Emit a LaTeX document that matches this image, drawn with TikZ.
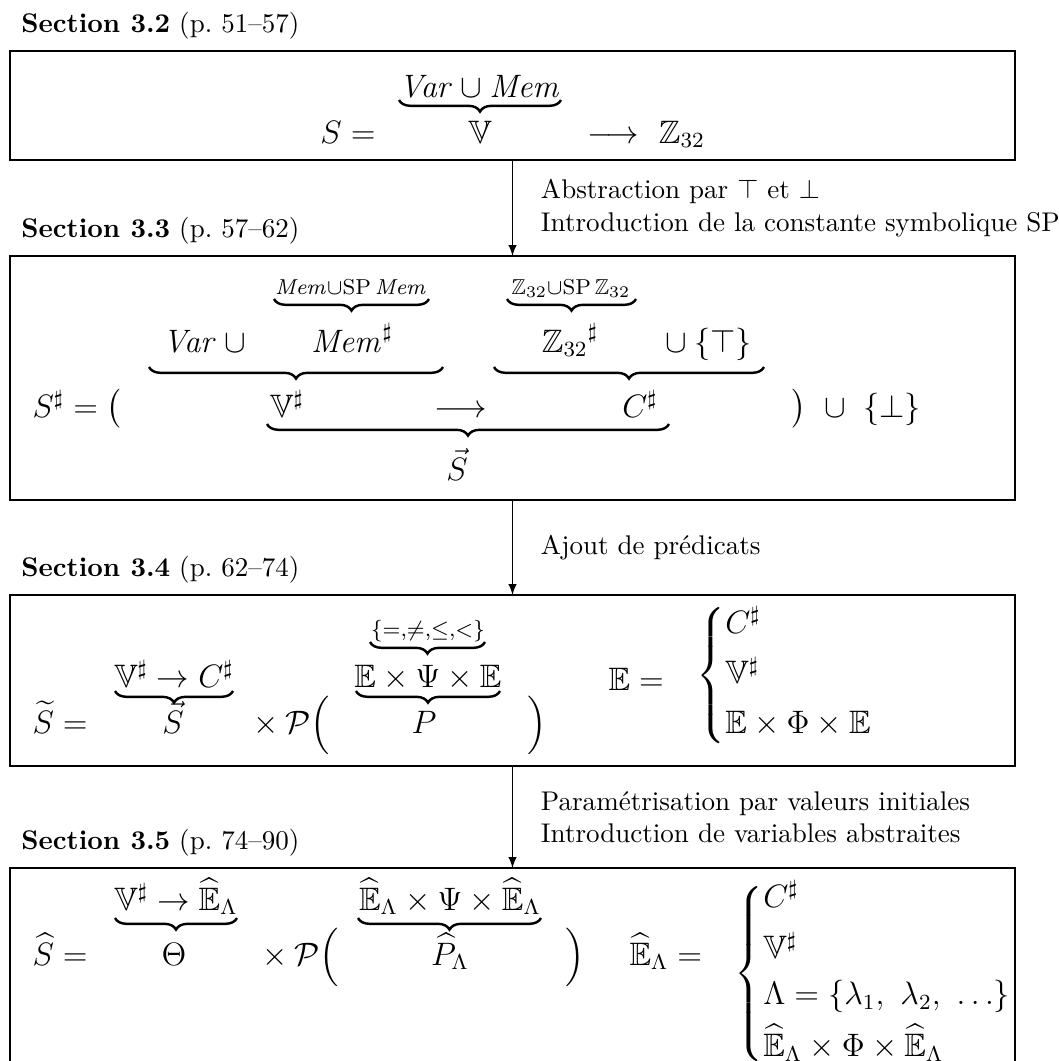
\documentclass[tikz,border=0pt]{standalone}
\usepackage{amsmath}
\usepackage{amssymb}
\usepackage{tikz}
\usetikzlibrary{arrows,positioning,decorations.pathreplacing}

\tikzset{
  secbox/.style={draw, thick, anchor=north west, minimum width=371.85pt, inner sep=0pt, outer sep=0pt},
  sectitle/.style={anchor=south west, inner sep=4pt},
  steplbl/.style={right=7pt, align=left},
  flow/.style={-latex},
  mth/.style={font=\large, inner sep=0pt, anchor=base},
  mthl/.style={mth, anchor=base west},
  ubrace/.style={decorate, decoration={brace, mirror, amplitude=4.3pt}, line width=0.9pt},
}

\begin{document}
\begin{tikzpicture}[x=0.37pt, y=-0.37pt]
  \useasboundingbox (0,0) rectangle (1059,1061);
  \clip (0,0) rectangle (1059,1061);

  % Section 3.2 - concrete states
  \node[secbox, minimum height=40.33pt] (s32) at (10,51) {};
  \node[sectitle] (t32) at (s32.north west) {\textbf{Section 3.2} (p.~51--57)};
  \node[mth] (a32) at (348,143) {$S =$};
  \node[mth] (v32) at (480,143) {$\mathbb{V}$};
  \node[mth] (z32) at (646,143) {$\longrightarrow\ \mathbb{Z}_{32}$};
  \node[mth] (u32) at (480,97) {$\mathit{Var}\cup\mathit{Mem}$};
  \draw[ubrace] (399,100) -- (561,100);

  % Section 3.3 - top and bottom, symbolic SP
  \node[secbox, minimum height=90.28pt] (s33) at (10,256) {};
  \node[sectitle] (t33) at (s33.north west) {\textbf{Section 3.3} (p.~57--62)};
  \node[mth] (m33) at (351,294) {$\scriptstyle \mathit{Mem}\cup\mathrm{SP}\,\mathit{Mem}$};
  \draw[ubrace] (274,299) -- (429,299);
  \node[mth] (z33) at (571,294) {$\scriptstyle \mathbb{Z}_{32}\cup\mathrm{SP}\,\mathbb{Z}_{32}$};
  \draw[ubrace] (507,299) -- (636,299);
  \node[mth] (var33) at (208,352) {$\mathit{Var}\cup{}$};
  \node[mth] (mem33) at (352,352) {$\mathit{Mem}^\sharp$};
  \node[mth] (zs33) at (570,352) {${\mathbb{Z}_{32}}^\sharp$};
  \node[mth] (top33) at (705,352) {${}\cup\{\top\}$};
  \draw[ubrace] (149,367) -- (443,367);
  \draw[ubrace] (494,367) -- (764,367);
  \node[mthl] (a33) at (32,417) {$S^\sharp = \big($};
  \node[mth] (v33) at (287,417) {$\mathbb{V}^\sharp$};
  \node[mth] (to33) at (461,417) {$\longrightarrow$};
  \node[mth] (c33) at (640,417) {$C^\sharp$};
  \node[mthl] (bot33) at (791,417) {$\big)\ \cup\ \{\bot\}$};
  \draw[ubrace] (267,424) -- (669,424);
  \node[mth] (vs33) at (457,480) {$\vec{S}$};

  % Section 3.4 - predicates
  \node[secbox, minimum height=63.27pt] (s34) at (10,595) {};
  \node[sectitle] (t34) at (s34.north west) {\textbf{Section 3.4} (p.~62--74)};
  \node[mth] (op34) at (428,636) {$\scriptstyle \{=,\neq,\leq,<\}$};
  \draw[ubrace] (370,642) -- (485,642);
  \node[mth] (f34) at (174,687) {$\mathbb{V}^\sharp\to C^\sharp$};
  \draw[ubrace] (115,691) -- (233,691);
  \node[mth] (e34) at (428,687) {$\mathbb{E}\times\Psi\times\mathbb{E}$};
  \draw[ubrace] (356,691) -- (500,691);
  \node[mthl] (a34) at (32,733) {$\widetilde{S} =$};
  \node[mth] (vs34) at (173,733) {$\vec{S}$};
  \node[mth] (p34) at (288,733) {${}\times\mathcal{P}\Big($};
  \node[mth] (pp34) at (424,733) {$P$};
  \node[mthl] (r34) at (527,733) {$\Big)$};
  \node[mthl] (ee34) at (608,690) {$\mathbb{E} =$};
  \node[mth, anchor=west] (c34) at (696,676) {$\left\{\begin{array}{@{}l@{}}
      C^\sharp\\[4.5pt] \mathbb{V}^\sharp\\[4.5pt] \mathbb{E}\times\Phi\times\mathbb{E}
    \end{array}\right.$};

  % Section 3.5 - initial values
  \node[secbox, minimum height=77pt] (s35) at (10,868) {};
  \node[sectitle] (t35) at (s35.north west) {\textbf{Section 3.5} (p.~74--90)};
  \node[mth] (f35) at (176,910) {$\mathbb{V}^\sharp\to\widehat{\mathbb{E}}_\Lambda$};
  \draw[ubrace] (115,918) -- (237,918);
  \node[mth] (e35) at (450,910) {$\widehat{\mathbb{E}}_\Lambda\times\Psi\times\widehat{\mathbb{E}}_\Lambda$};
  \draw[ubrace] (358,918) -- (541,918);
  \node[mthl] (a35) at (32,965) {$\widehat{S} =$};
  \node[mth] (th35) at (174,965) {$\Theta$};
  \node[mth] (p35) at (297,965) {${}\times\mathcal{P}\Big($};
  \node[mth] (pp35) at (450,965) {$\widehat{P}_\Lambda$};
  \node[mthl] (r35) at (565,965) {$\Big)$};
  \node[mthl] (ee35) at (629,965) {$\widehat{\mathbb{E}}_\Lambda =$};
  \node[mth, anchor=west] (c35) at (734,974) {$\left\{\begin{array}{@{}l@{}}
      C^\sharp\\[5pt] \mathbb{V}^\sharp\\[3pt] \Lambda=\{\lambda_1,\ \lambda_2,\ \ldots\}\\[3pt]
      \widehat{\mathbb{E}}_\Lambda\times\Phi\times\widehat{\mathbb{E}}_\Lambda
    \end{array}\right.$};

  % refinement steps
  \draw[flow] (s32) -- node[steplbl] (l1) {Abstraction par $\top$ et $\bot$\\Introduction de la constante symbolique SP} (s33);
  \draw[flow] (s33) -- node[steplbl] (l2) {Ajout de pr\'edicats} (s34);
  \draw[flow] (s34) -- node[steplbl] (l3) {Param\'etrisation par valeurs initiales\\Introduction de variables abstraites} (s35);
\end{tikzpicture}
\end{document}
